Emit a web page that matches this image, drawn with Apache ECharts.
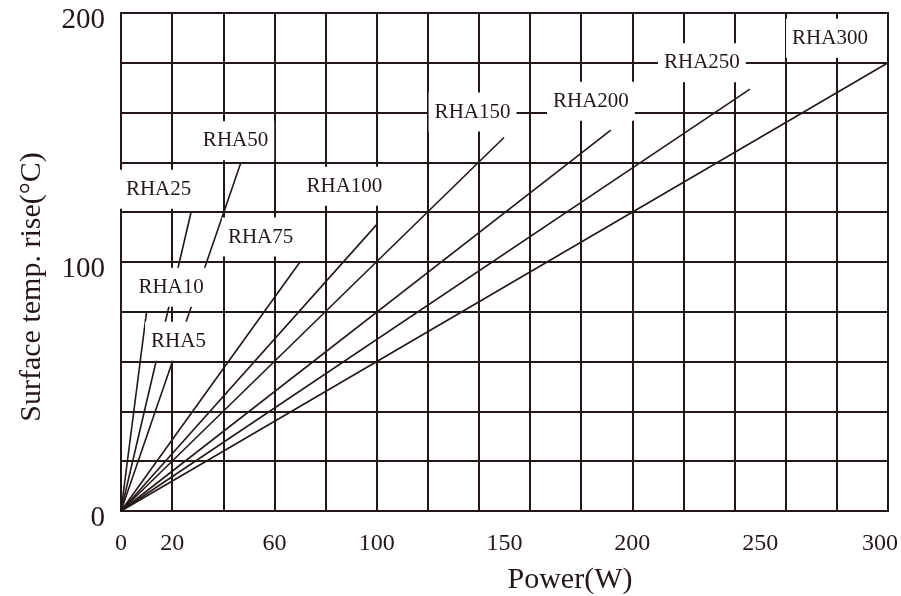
<!DOCTYPE html>
<html>
<head>
<meta charset="utf-8">
<script src="https://cdn.jsdelivr.net/npm/echarts@6/dist/echarts.min.js"></script>
<style>
html,body{margin:0;padding:0;background:#fff;}
#chart{width:901px;height:596px;}
</style>
</head>
<body>
<div id="chart"></div>
<script>
// ---- data ----
const lineNames = ['RHA10', 'RHA25', 'RHA50', 'RHA75', 'RHA100', 'RHA150', 'RHA200', 'RHA250', 'RHA300'];
const lineEndPower = [10, 27.4, 46.9, 70, 100, 149.8, 191.6, 246, 300];
const lineEndTemp = [80, 120, 140, 100, 115, 150, 153, 169.4, 180];

const labelNames = ['RHA5', 'RHA10', 'RHA25', 'RHA50', 'RHA75', 'RHA100', 'RHA150', 'RHA200', 'RHA250', 'RHA300'];
const labelPower = [22.5, 19.6, 14.7, 44.8, 54.6, 87.4, 137.5, 183.8, 227.2, 277.3];
const labelTemp = [68.2, 89.9, 129.2, 148.7, 110, 130.4, 160.2, 164.6, 180, 189.9];

const xTickLabelsFine = [0, 20, 60, 100];
const xTickLabelsCoarse = [150, 200, 250, 300];
const yTickLabels = [0, 100, 200];

// ---- chart ----
const INK = '#231815';
const SERIF = '"Liberation Serif", "DejaVu Serif", serif';

const series = lineNames.map((n, i) => ({
  name: n,
  type: 'line',
  data: [[0, 0], [lineEndPower[i], lineEndTemp[i]]],
  showSymbol: false,
  symbol: 'none',
  lineStyle: { color: INK, width: 1.6 },
  z: 3,
  silent: true
}));

series.push({
  name: 'labels',
  type: 'scatter',
  data: labelNames.map((n, i) => ({ name: n, value: [labelPower[i], labelTemp[i]] })),
  symbolSize: 0.1,
  itemStyle: { color: INK, opacity: 1 },
  z: 10,
  silent: true,
  label: {
    show: true,
    position: 'inside',
    formatter: '{b}',
    color: INK,
    opacity: 1,
    textBorderWidth: 0,
    textShadowBlur: 0,
    fontFamily: SERIF,
    fontSize: 21,
    backgroundColor: '#ffffff',
    padding: [9, 6, 9, 6]
  }
});

const chart = echarts.init(document.getElementById('chart'), null, { renderer: 'canvas' });
chart.setOption({
  animation: false,
  backgroundColor: '#ffffff',
  grid: {
    left: 121, right: 13, top: 13, bottom: 85,
    containLabel: false,
    outerBoundsMode: 'none',
    show: true,
    borderColor: INK,
    borderWidth: 2
  },
  xAxis: [
    {
      type: 'value', min: 0, max: 300, interval: 20,
      position: 'bottom',
      name: 'Power(W)',
      nameLocation: 'middle',
      nameGap: 54,
      nameTextStyle: { fontFamily: SERIF, fontSize: 30, color: INK, padding: [0, 0, 0, 131] },
      axisLine: { show: true, lineStyle: { color: INK, width: 2 } },
      axisTick: { show: false },
      splitLine: { show: true, lineStyle: { color: INK, width: 2 } },
      axisLabel: {
        margin: 21,
        fontFamily: SERIF, fontSize: 24, color: INK,
        formatter: v => xTickLabelsFine.includes(v) ? String(v) : ''
      }
    },
    {
      type: 'value', min: 0, max: 300, interval: 50,
      position: 'bottom',
      offset: 0,
      axisLine: { show: false },
      axisTick: { show: false },
      splitLine: { show: false },
      axisLabel: {
        margin: 21,
        fontFamily: SERIF, fontSize: 24, color: INK,
        formatter: v => xTickLabelsCoarse.includes(v) ? (v === 300 ? '{r|300}' : String(v)) : '',
        rich: { r: { fontFamily: SERIF, fontSize: 24, color: INK, padding: [0, 16, 0, 0] } }
      }
    }
  ],
  yAxis: {
    type: 'value', min: 0, max: 200, interval: 20,
    name: 'Surface temp. rise(°C)',
    nameLocation: 'middle',
    nameGap: 74,
    nameRotate: 90,
    nameTextStyle: { fontFamily: SERIF, fontSize: 30, color: INK, padding: [0, 50, 0, 0] },
    axisLine: { show: true, lineStyle: { color: INK, width: 2 } },
    axisTick: { show: false },
    splitLine: { show: true, lineStyle: { color: INK, width: 2 } },
    axisLabel: {
      margin: 16,
      fontFamily: SERIF, fontSize: 29, color: INK,
      formatter: v => yTickLabels.includes(v) ? '{t|' + v + '}' : '',
      rich: { t: { fontFamily: SERIF, fontSize: 29, color: INK, padding: [14, 0, 0, 0] } }
    }
  },
  series: series
});
</script>
</body>
</html>
